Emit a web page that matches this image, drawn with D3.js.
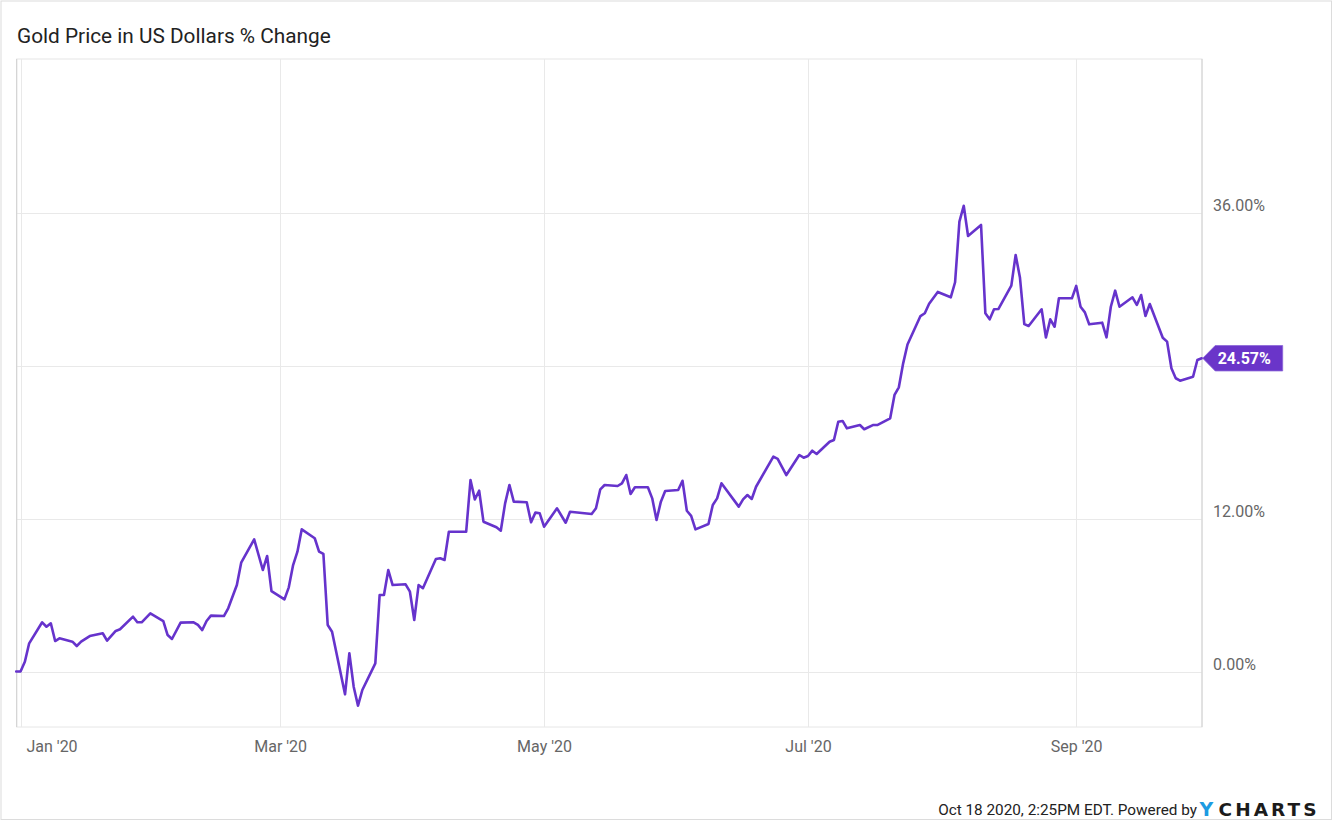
<!DOCTYPE html>
<html><head><meta charset="utf-8">
<script src="https://cdn.jsdelivr.net/npm/d3@7"></script>
<style>body{margin:0;background:#fff;} svg{display:block;font-family:Roboto, "Noto Sans", sans-serif;}</style>
</head><body><svg id="c" width="1333" height="821"></svg>
<script>
const title = "Gold Price in US Dollars % Change";
const dates = [
"2019-12-31","2020-01-01","2020-01-02","2020-01-03","2020-01-06","2020-01-07","2020-01-08","2020-01-09","2020-01-10",
"2020-01-13","2020-01-14","2020-01-15","2020-01-17","2020-01-20","2020-01-21","2020-01-23","2020-01-24",
"2020-01-27","2020-01-28","2020-01-29","2020-01-31","2020-02-03","2020-02-04","2020-02-05","2020-02-07",
"2020-02-10","2020-02-11","2020-02-12","2020-02-13","2020-02-14","2020-02-17","2020-02-18","2020-02-20","2020-02-21",
"2020-02-24","2020-02-26","2020-02-27","2020-02-28","2020-03-02","2020-03-03","2020-03-04","2020-03-05","2020-03-06",
"2020-03-09","2020-03-10","2020-03-11","2020-03-12","2020-03-13","2020-03-16","2020-03-17","2020-03-18","2020-03-19","2020-03-20",
"2020-03-23","2020-03-24","2020-03-25","2020-03-26","2020-03-27","2020-03-30","2020-03-31","2020-04-01","2020-04-02","2020-04-03",
"2020-04-06","2020-04-07","2020-04-08","2020-04-09","2020-04-13","2020-04-14","2020-04-15","2020-04-16","2020-04-17",
"2020-04-20","2020-04-21","2020-04-22","2020-04-23","2020-04-24","2020-04-27","2020-04-28","2020-04-29","2020-04-30","2020-05-01",
"2020-05-04","2020-05-06","2020-05-07","2020-05-12","2020-05-13","2020-05-14","2020-05-15",
"2020-05-18","2020-05-19","2020-05-20","2020-05-21","2020-05-22","2020-05-25","2020-05-26","2020-05-27","2020-05-28","2020-05-29",
"2020-06-01","2020-06-02","2020-06-03","2020-06-04","2020-06-05","2020-06-08","2020-06-09","2020-06-10","2020-06-11",
"2020-06-15","2020-06-16","2020-06-17","2020-06-18","2020-06-19","2020-06-23","2020-06-24","2020-06-26","2020-06-29","2020-06-30",
"2020-07-01","2020-07-02","2020-07-03","2020-07-06","2020-07-07","2020-07-08","2020-07-09","2020-07-10",
"2020-07-13","2020-07-14","2020-07-16","2020-07-17","2020-07-20","2020-07-21","2020-07-22","2020-07-23","2020-07-24",
"2020-07-27","2020-07-28","2020-07-29","2020-07-31","2020-08-03","2020-08-04","2020-08-05","2020-08-06","2020-08-07",
"2020-08-10","2020-08-11","2020-08-12","2020-08-13","2020-08-14","2020-08-17","2020-08-18","2020-08-19","2020-08-20","2020-08-21",
"2020-08-24","2020-08-25","2020-08-26","2020-08-27","2020-08-28","2020-08-31","2020-09-01","2020-09-02","2020-09-03","2020-09-04",
"2020-09-07","2020-09-08","2020-09-09","2020-09-10","2020-09-11","2020-09-14","2020-09-15","2020-09-16","2020-09-17","2020-09-18",
"2020-09-21","2020-09-22","2020-09-23","2020-09-24","2020-09-25","2020-09-28","2020-09-29","2020-09-30"
];
const values = [
0,0,0.77,2.21,3.86,3.51,3.78,2.39,2.6,
2.34,2.0,2.34,2.78,3.0,2.42,3.18,3.31,
4.3,3.86,3.86,4.56,3.96,2.86,2.55,3.83,
3.86,3.65,3.25,3.96,4.38,4.35,4.96,6.78,8.53,
10.37,7.96,9.06,6.31,5.66,6.6,8.35,9.4,11.15,
10.45,9.4,9.22,3.65,3.12,-1.79,1.43,-1.19,-2.68,-1.45,
0.64,6.0,6.0,7.96,6.78,6.84,6.26,4.04,6.78,6.53,
8.82,8.88,8.75,10.96,10.96,15.02,13.5,14.18,11.75,
11.31,11.04,13.19,14.63,13.32,13.27,11.7,12.46,12.41,11.36,
12.8,11.67,12.53,12.35,12.8,14.29,14.63,
14.55,14.76,15.41,13.92,14.45,14.45,13.58,11.88,13.32,14.16,
14.24,14.96,12.61,12.2,11.15,11.57,13.06,13.58,14.76,
12.93,13.5,13.84,13.53,14.49,16.85,16.67,15.41,16.98,16.77,
16.9,17.32,17.06,18.02,18.16,19.59,19.65,19.07,
19.33,19.0,19.33,19.33,19.86,21.69,22.29,24.17,25.65,
27.88,28.1,28.85,29.77,29.35,30.53,35.28,36.53,34.16,
35.02,28.09,27.62,28.41,28.43,30.26,32.67,30.88,27.25,27.1,
28.41,26.2,27.62,27.04,29.27,29.27,30.24,28.61,28.17,27.23,
27.36,26.21,28.61,29.87,28.61,29.35,28.75,29.53,27.88,28.82,
26.18,25.87,23.78,23.0,22.81,23.12,24.43,24.57
];
const yGridTicks = [0, 12, 24, 36];
const yLabelTicks = [0, 12, 36];   // 24% label is hidden behind the last-value tag
const xTicks = ["2020-01-01","2020-03-01","2020-05-01","2020-07-01","2020-09-01"];
const xDomain = ["2019-12-31","2020-09-30"];
const yDomain = [-4.353, 48.04];
const lastLabel = "24.57%";
const footerText = "Oct 18 2020, 2:25PM EDT. Powered by";

const parse = d3.timeParse("%Y-%m-%d");
const data = dates.map((d, i) => ({ date: parse(d), value: values[i] }));

const W = 1333, H = 821;
const plot = { left: 16.7, right: 1202, top: 59, bottom: 727 };
const lineColor = "#6633cc";

const svg = d3.select("#c");

// outer border
svg.append("rect").attr("x", 1).attr("y", 1).attr("width", W - 2.5).attr("height", H - 2.5)
  .attr("fill", "#fff").attr("stroke", "#dcdcdc").attr("stroke-width", 1);

const x = d3.scaleTime().domain(xDomain.map(parse)).range([16.2, 1201.7]);
const y = d3.scaleLinear().domain(yDomain).range([plot.bottom, plot.top]);

// title
svg.append("text").attr("x", 17).attr("y", 42.5).attr("font-size", 20.8).attr("fill", "#222")
  .text(title);

// plot frame
svg.append("rect").attr("x", plot.left).attr("y", plot.top)
  .attr("width", plot.right - plot.left).attr("height", plot.bottom - plot.top)
  .attr("fill", "none").attr("stroke", "#e6e6e6").attr("stroke-width", 1);

// horizontal grid
svg.append("g").selectAll("line").data(yGridTicks).join("line")
  .attr("x1", plot.left).attr("x2", plot.right)
  .attr("y1", d => Math.round(y(d)) + 0.5).attr("y2", d => Math.round(y(d)) + 0.5)
  .attr("stroke", "#e9e9e9");

// vertical grid
svg.append("g").selectAll("line").data(xTicks.map(parse)).join("line")
  .attr("x1", d => Math.round(x(d)) + 0.5).attr("x2", d => Math.round(x(d)) + 0.5)
  .attr("y1", plot.top).attr("y2", plot.bottom)
  .attr("stroke", "#e9e9e9");

// left & right axis lines
svg.append("line").attr("x1", plot.left).attr("x2", plot.left).attr("y1", plot.top).attr("y2", plot.bottom)
  .attr("stroke", "#d0d0d0");
svg.append("line").attr("x1", plot.right).attr("x2", plot.right).attr("y1", plot.top).attr("y2", plot.bottom)
  .attr("stroke", "#d0d0d0");

// x axis
const fmt = d3.timeFormat("%b '%y");
const xAxis = d3.axisBottom(x).tickValues(xTicks.map(parse)).tickFormat(fmt).tickSize(0).tickPadding(0);
const gx = svg.append("g").attr("transform", `translate(0,${plot.bottom})`).call(xAxis);
gx.select(".domain").remove();
gx.selectAll("text").attr("font-size", 16).attr("fill", "#666").attr("font-family", "Roboto")
  .attr("dy", 0).attr("y", 25.3);
// keep first label inside the chart (justified like the original)
gx.selectAll(".tick text").each(function() {
  const bb = this.getBBox();
  const tr = this.parentNode.transform.baseVal.consolidate().matrix.e;
  const left = tr + bb.x;
  if (left < 26.5) d3.select(this).attr("x", 26.5 - left);
});

// y axis (right)
const yAxis = d3.axisRight(y).tickValues(yLabelTicks).tickFormat(d => d3.format(".2f")(d) + "%").tickSize(0).tickPadding(0);
const gy = svg.append("g").attr("transform", `translate(${plot.right + 11},0)`).call(yAxis);
gy.select(".domain").remove();
gy.selectAll("text").attr("font-size", 16).attr("fill", "#666").attr("font-family", "Roboto")
  .attr("dy", -1.8).attr("x", 0);

// line
const line = d3.line().x(d => x(d.date)).y(d => y(d.value));
svg.append("path").datum(data).attr("d", line)
  .attr("fill", "none").attr("stroke", lineColor).attr("stroke-width", 2.6)
  .attr("stroke-linejoin", "round").attr("stroke-linecap", "round");

// last value tag
const last = data[data.length - 1];
const tx = x(last.date) + 1, ty = y(last.value);
const tagG = svg.append("g");
tagG.append("path")
  .attr("d", `M${tx},${ty} L${tx + 12.5},${ty - 12.7} L${tx + 80},${ty - 12.7} L${tx + 80},${ty + 12.7} L${tx + 12.5},${ty + 12.7} Z`)
  .attr("fill", "#6a35c9").attr("stroke", "#8a66d8").attr("stroke-width", 0.8);
tagG.append("text").attr("x", tx + 15).attr("y", ty + 6).attr("font-size", 16).attr("font-weight", "bold")
  .attr("fill", "#fff").text(lastLabel);

// footer
svg.append("text").attr("x", 1197).attr("y", 814.5).attr("text-anchor", "end")
  .attr("font-size", 15.3).attr("fill", "#222").text(footerText);
svg.append("text").attr("x", 1199.5).attr("y", 815.5).attr("font-size", 19)
  .attr("font-weight", "bold").attr("font-family", "DejaVu Sans").attr("fill", "#1d9be2").text("Y");
svg.append("text").attr("x", 1218.5).attr("y", 815.5).attr("font-size", 18.5)
  .attr("font-weight", "bold").attr("font-family", "DejaVu Sans").attr("fill", "#1b1b1b")
  .attr("textLength", 98).attr("lengthAdjust", "spacing").text("CHARTS");
</script>
</body></html>
